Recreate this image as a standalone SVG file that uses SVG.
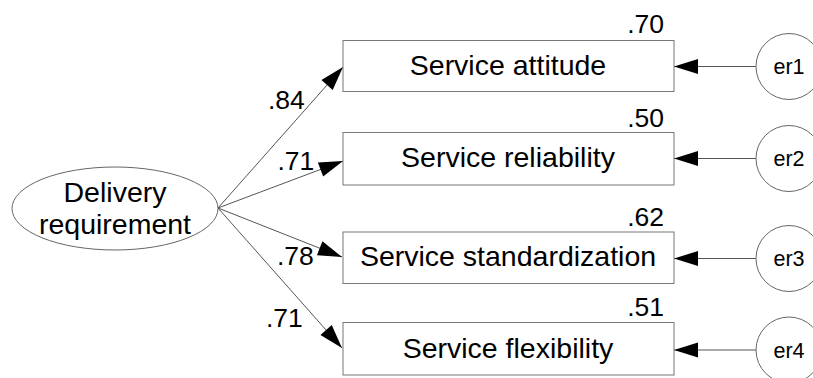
<svg xmlns="http://www.w3.org/2000/svg" width="813" height="378" viewBox="0 0 813 378">
<style>
text{font-family:"Liberation Sans",Arial,sans-serif;fill:#000}
.box{fill:#fff;stroke:#777;stroke-width:1}
.lat{fill:#fff;stroke:#666;stroke-width:1}
.lbl{font-size:28.5px;text-anchor:middle}
.num{font-size:26.5px}
.r{text-anchor:end}
.er{font-size:21.5px;text-anchor:middle}
.c line{stroke:#555;stroke-width:1;marker-end:url(#ah)}
</style>
<defs>
<marker id="ah" markerUnits="userSpaceOnUse" markerWidth="24" markerHeight="15" refX="24" refY="7.5" orient="auto" overflow="visible">
<path d="M0,0 L24,7.5 L0,15 z" fill="#000"/>
</marker>
</defs>
<rect width="813" height="378" fill="#fff"/>
<g class="c" id="connectors">
<line x1="218" y1="208" x2="343" y2="67"/>
<line x1="218" y1="208" x2="343" y2="161"/>
<line x1="218" y1="208" x2="342" y2="257"/>
<line x1="218" y1="208" x2="342" y2="348"/>
<line x1="756" y1="66.5" x2="674" y2="66.5"/>
<line x1="756" y1="158.5" x2="674" y2="158.5"/>
<line x1="756" y1="258.5" x2="674" y2="258.5"/>
<line x1="756" y1="350" x2="674" y2="350"/>
</g>
<g id="delivery">
<ellipse class="lat" cx="115" cy="208.5" rx="103" ry="41.5"/>
<text class="lbl" x="115" y="202">Delivery</text>
<text class="lbl" x="115" y="233.5">requirement</text>
</g>
<g id="attitude">
<rect class="box" x="343" y="40.5" width="331" height="51"/>
<text class="lbl" x="508" y="74.5">Service attitude</text>
<text class="num r" x="664" y="33">.70</text>
</g>
<g id="reliability">
<rect class="box" x="343" y="132.5" width="331" height="52.5"/>
<text class="lbl" x="508" y="167">Service reliability</text>
<text class="num r" x="664" y="126.5">.50</text>
</g>
<g id="standardization">
<rect class="box" x="343" y="232" width="331" height="51.5"/>
<text class="lbl" x="508" y="266">Service standardization</text>
<text class="num r" x="664" y="226">.62</text>
</g>
<g id="flexibility">
<rect class="box" x="343" y="322.5" width="331" height="52.5"/>
<text class="lbl" x="508" y="358">Service flexibility</text>
<text class="num r" x="664" y="316">.51</text>
</g>
<g id="er1"><circle class="lat" cx="789" cy="66.5" r="33"/><text class="er" x="789" y="74">er1</text></g>
<g id="er2"><circle class="lat" cx="789" cy="158.5" r="33"/><text class="er" x="789" y="166">er2</text></g>
<g id="er3"><circle class="lat" cx="789" cy="258.5" r="33"/><text class="er" x="789" y="266">er3</text></g>
<g id="er4"><circle class="lat" cx="789" cy="350" r="33"/><text class="er" x="789" y="357.5">er4</text></g>
<g id="labels">
<text class="num" x="268" y="109">.84</text>
<text class="num" x="277.5" y="170">.71</text>
<text class="num" x="277" y="265">.78</text>
<text class="num" x="266" y="327">.71</text>
</g>
</svg>
